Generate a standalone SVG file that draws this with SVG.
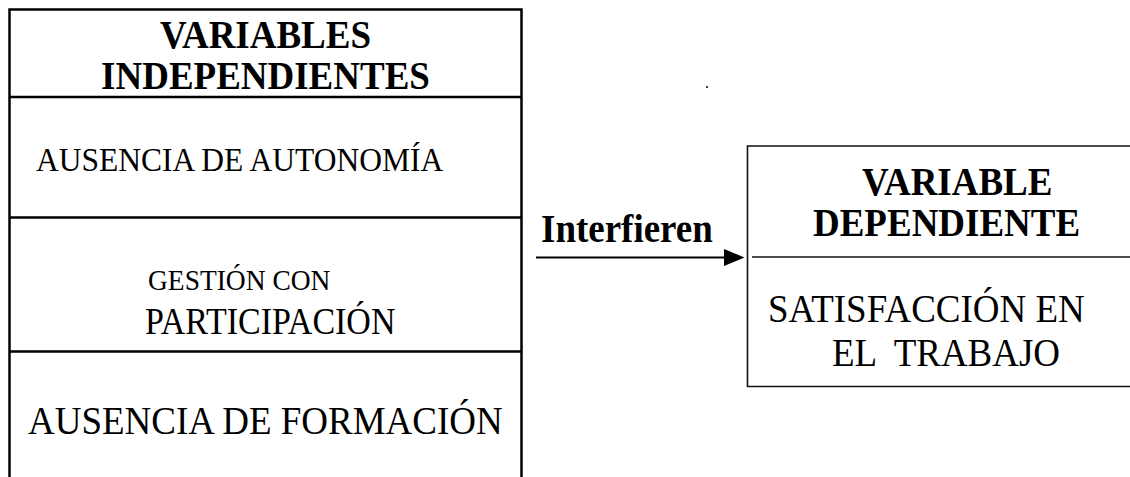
<svg xmlns="http://www.w3.org/2000/svg" width="1130" height="477" viewBox="0 0 1130 477">
<style>
.t{font-family:"Liberation Serif","Times New Roman",serif;fill:#000}
.b{font-weight:bold;font-size:37px}
.box{fill:none;stroke:#000;stroke-width:2.5}
.box2{fill:none;stroke:#111;stroke-width:1.6}
</style>
<rect width="1130" height="477" fill="#fff"/>
<g id="independientes">
<path class="box" d="M9.5,478 V9.5 H521.5 V478 M9.5,97 H521.5 M9.5,217.5 H521.5 M9.5,351.5 H521.5"/>
<text class="t b" transform="translate(265.5,47.5) scale(1,1.1)" text-anchor="middle">VARIABLES</text>
<text class="t b" transform="translate(265.5,89) scale(1,1.1)" text-anchor="middle">INDEPENDIENTES</text>
</g>
<g id="autonomia">
<text class="t" transform="translate(36,171) scale(1,1.1)" font-size="31.5">AUSENCIA DE AUTONOMÍA</text>
</g>
<g id="gestion">
<text class="t" transform="translate(148,290) scale(1,1.1)" font-size="27.5">GESTIÓN CON</text>
<text class="t" transform="translate(145,334) scale(1,1.1)" font-size="34">PARTICIPACIÓN</text>
</g>
<g id="formacion">
<text class="t" transform="translate(28,434) scale(1,1.1)" font-size="37">AUSENCIA DE FORMACIÓN</text>
</g>
<g id="dependiente">
<path class="box2" d="M1131,146 H747.5 V386.5 H1131 M752,257 H1131"/>
<text class="t b" transform="translate(862,194.5) scale(1,1.1)">VARIABLE</text>
<text class="t b" transform="translate(813,236) scale(1,1.1)">DEPENDIENTE</text>
<text class="t" transform="translate(768,322) scale(1,1.1)" font-size="37">SATISFACCIÓN EN</text>
<text class="t" transform="translate(832,366) scale(1,1.1)" font-size="37" xml:space="preserve">EL  TRABAJO</text>
</g>
<g id="connectors">
<line x1="536" y1="257.5" x2="726" y2="257.5" stroke="#000" stroke-width="2"/>
<path d="M724,249 L744.5,257.5 L724,266 Z" fill="#000"/>
<text class="t b" transform="translate(541,242) scale(1,1.1)">Interfieren</text>
</g>
<circle cx="707" cy="87" r="1" fill="#000"/>
</svg>
